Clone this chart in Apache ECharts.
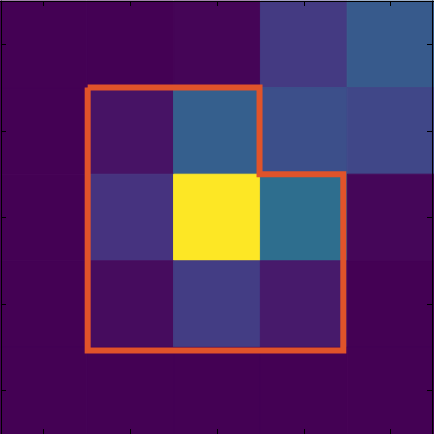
<!DOCTYPE html>
<html>
<head>
<meta charset="utf-8">
<script src="https://cdn.jsdelivr.net/npm/echarts@6/dist/echarts.min.js"></script>
<style>
html,body{margin:0;padding:0;background:#fff;}
#c{width:434px;height:434px;}
</style>
</head>
<body>
<div id="c"></div>
<script>
// Categories (columns and rows)
var cols = ['0', '1', '2', '3', '4'];
var rows = ['0', '1', '2', '3', '4'];
// Cell values per row (0..1 scale)
var row0 = [0.00, 0.00, 0.01, 0.17, 0.28];
var row1 = [0.00, 0.05, 0.30, 0.24, 0.21];
var row2 = [0.00, 0.15, 1.00, 0.36, 0.015];
var row3 = [0.00, 0.03, 0.18, 0.07, 0.00];
var row4 = [0.00, 0.00, 0.00, 0.00, 0.00];
// Outline polygon vertices in data units (column, row)
var outlineX = [0.51, 2.49, 2.49, 3.455, 3.455, 0.51, 0.51];
var outlineY = [0.5, 0.5, 1.5, 1.5, 3.535, 3.535, 0.5];

var grid = [row0, row1, row2, row3, row4];
var heat = [];
grid.forEach(function (r, ri) {
  r.forEach(function (v, ci) { heat.push([ci, ri, v]); });
});
var outline = outlineX.map(function (x, i) { return [x, outlineY[i]]; });

var viridis = ['#440154', '#471365', '#482475', '#46337f', '#414487', '#3b528b',
  '#355f8d', '#2f6c8e', '#2a788e', '#25848e', '#21918c', '#1e9c89', '#22a884',
  '#2fb47c', '#44bf70', '#5ec962', '#7ad151', '#9bd93c', '#bddf26', '#dfe318', '#fde725'];

var tick = { show: true, inside: true, length: 5, alignWithLabel: true, lineStyle: { color: '#000', width: 1 } };
var line = { show: true, onZero: false, lineStyle: { color: '#000', width: 1 } };

function renderCell(params, api) {
  var c = api.coord([api.value(0), api.value(1)]);
  var s = api.size([1, 1]);
  var col = api.visual('color');
  return {
    type: 'rect',
    shape: { x: c[0] - s[0] / 2, y: c[1] - s[1] / 2, width: s[0], height: s[1] },
    style: { fill: col, stroke: col, lineWidth: 1 }
  };
}

var chart = echarts.init(document.getElementById('c'), null, { renderer: 'canvas' });
chart.setOption({
  animation: false,
  backgroundColor: '#fff',
  grid: { left: 0, top: 1, width: 435, height: 435, containLabel: false },
  xAxis: [
    { type: 'category', data: cols, position: 'bottom', z: 10, axisLine: line, axisTick: tick, axisLabel: { show: false }, splitLine: { show: false } },
    { type: 'category', data: cols, position: 'top', z: 10, axisLine: line, axisTick: tick, axisLabel: { show: false }, splitLine: { show: false } },
    { type: 'value', min: -0.5, max: 4.5, show: false }
  ],
  yAxis: [
    { type: 'category', data: rows, inverse: true, position: 'left', offset: -1, z: 10, axisLine: line, axisTick: tick, axisLabel: { show: false }, splitLine: { show: false } },
    { type: 'category', data: rows, inverse: true, position: 'right', offset: -2, z: 10, axisLine: line, axisTick: tick, axisLabel: { show: false }, splitLine: { show: false } },
    { type: 'value', min: -0.5, max: 4.5, inverse: true, show: false }
  ],
  visualMap: { show: false, type: 'continuous', min: 0, max: 1, dimension: 2, seriesIndex: 0, inRange: { color: viridis } },
  series: [
    { type: 'custom', xAxisIndex: 0, yAxisIndex: 0, data: heat, renderItem: renderCell, encode: { x: 0, y: 1 }, z: 2 },
    { type: 'line', xAxisIndex: 2, yAxisIndex: 2, data: outline, symbol: 'none', z: 5,
      lineStyle: { color: '#e0532a', width: 6, join: 'miter', cap: 'butt' } }
  ]
});
</script>
</body>
</html>
